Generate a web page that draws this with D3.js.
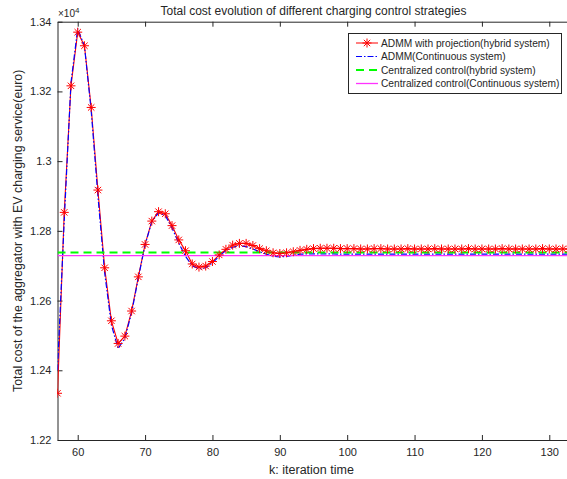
<!DOCTYPE html>
<html><head><meta charset="utf-8">
<script src="https://cdn.jsdelivr.net/npm/d3@7"></script>
<style>body{margin:0;background:#fff}svg{display:block}text{font-family:"Liberation Sans",Arial,sans-serif;fill:#262626}</style>
</head><body><svg id="c" width="567" height="479"></svg>
<script>
const iterations = [57,58,59,60,61,62,63,64,65,66,67,68,69,70,71,72,73,74,75,76,77,78,79,80,81,82,83,84,85,86,87,88,89,90,91,92,93,94,95,96,97,98,99,100,101,102,103,104,105,106,107,108,109,110,111,112,113,114,115,116,117,118,119,120,121,122,123,124,125,126,127,128,129,130,131,132,133];
const admmHybrid = [1.2334,1.2853,1.3216,1.3370,1.3331,1.3154,1.2917,1.2694,1.2542,1.2477,1.2498,1.2570,1.2668,1.2761,1.2828,1.2855,1.2849,1.2815,1.2774,1.2743,1.2705,1.2696,1.2699,1.2712,1.2731,1.2747,1.2759,1.2764,1.2764,1.2758,1.2749,1.2743,1.2737,1.2735,1.2737,1.2740,1.2744,1.2747,1.2749,1.2750,1.2750,1.2750,1.2749,1.2749,1.2749,1.2748,1.2748,1.2749,1.2749,1.2748,1.2748,1.2748,1.2749,1.2748,1.2748,1.2748,1.2749,1.2748,1.2748,1.2748,1.2748,1.2749,1.2748,1.2748,1.2748,1.2748,1.2749,1.2748,1.2748,1.2748,1.2748,1.2748,1.2749,1.2748,1.2748,1.2748,1.2748];
const admmContinuous = [1.2400,1.2830,1.3225,1.3380,1.3330,1.3145,1.2900,1.2680,1.2530,1.2462,1.2492,1.2565,1.2665,1.2760,1.2826,1.2852,1.2844,1.2808,1.2765,1.2727,1.2700,1.2691,1.2694,1.2708,1.2727,1.2744,1.2753,1.2757,1.2755,1.2748,1.2740,1.2733,1.2727,1.2725,1.2727,1.2730,1.2733,1.2734,1.2734,1.2734,1.2734,1.2734,1.2733,1.2733,1.2733,1.2733,1.2733,1.2733,1.2733,1.2733,1.2733,1.2733,1.2733,1.2733,1.2733,1.2733,1.2733,1.2733,1.2733,1.2733,1.2733,1.2733,1.2733,1.2733,1.2733,1.2733,1.2733,1.2733,1.2733,1.2733,1.2733,1.2733,1.2733,1.2733,1.2733,1.2733,1.2733];
const centralizedHybrid = 1.2738;
const centralizedContinuous = 1.2733;
const xTicks = [60,70,80,90,100,110,120,130];
const yTicks = [1.22,1.24,1.26,1.28,1.30,1.32,1.34];
const yTickLabels = ["1.22","1.24","1.26","1.28","1.3","1.32","1.34"];
const seriesNames = ["ADMM with projection(hybrid system)","ADMM(Continuous system)","Centralized control(hybrid system)","Centralized control(Continuous system)"];

const svg = d3.select("#c");
const L=57.5, R=569.5, T=21.7, B=440;
const x = d3.scaleLinear().domain([57,133]).range([L,R]);
const y = d3.scaleLinear().domain([1.22,1.34]).range([B,T]);
const axisColor="#262626";

svg.append("defs").append("clipPath").attr("id","pc").append("rect")
  .attr("x",L).attr("y",T-6).attr("width",R-L).attr("height",B-T+12);

// axes
const xa = svg.append("g").attr("transform",`translate(0,${B})`)
  .call(d3.axisBottom(x).tickValues(xTicks).tickSize(-5).tickPadding(8).tickSizeOuter(0).tickFormat(d3.format("d")));
const xt = svg.append("g").attr("transform",`translate(0,${T})`)
  .call(d3.axisTop(x).tickValues(xTicks).tickSize(-5).tickSizeOuter(0).tickFormat(""));
const ya = svg.append("g").attr("transform",`translate(${L},0)`)
  .call(d3.axisLeft(y).tickValues(yTicks).tickSize(-5).tickPadding(6).tickSizeOuter(0).tickFormat((d,i)=>yTickLabels[i]));
[xa,xt,ya].forEach(g=>{
  g.selectAll("path").attr("stroke",axisColor);
  g.selectAll("line").attr("stroke",axisColor);
  g.selectAll("text").attr("fill",axisColor).style("font-size","11px").style("font-family",'"Liberation Sans",Arial,sans-serif');
});

// exponent label
const ex = svg.append("text").attr("x",58).attr("y",17).style("font-size","10px");
ex.append("tspan").text("×10");
ex.append("tspan").attr("dy",-4).style("font-size","8px").text("4");

// title and labels
svg.append("text").attr("x",(L+R)/2).attr("y",15).attr("text-anchor","middle").style("font-size","12px")
  .text("Total cost evolution of different charging control strategies");
svg.append("text").attr("x",(L+R)/2-2).attr("y",474).attr("text-anchor","middle").style("font-size","12.5px")
  .text("k: iteration time");
svg.append("text").attr("transform",`translate(22,${(T+B)/2}) rotate(-90)`).attr("text-anchor","middle").style("font-size","12.4px")
  .text("Total cost of the aggregator with EV charging service(euro)");

const plot = svg.append("g").attr("clip-path","url(#pc)");
const line = d3.line().x((d,i)=>x(iterations[i])).y(d=>y(d));

// red line
plot.append("path").datum(admmHybrid).attr("d",line).attr("fill","none").attr("stroke","#ff0000").attr("stroke-width",1.1);
// blue dash-dot
plot.append("path").datum(admmContinuous).attr("d",line).attr("fill","none").attr("stroke","#0000ff").attr("stroke-width",1.2).attr("stroke-dasharray","6,2,1.5,2");
// green dashed
plot.append("line").attr("x1",x(57)).attr("x2",x(133)).attr("y1",y(centralizedHybrid)).attr("y2",y(centralizedHybrid))
  .attr("stroke","#00ff00").attr("stroke-width",2).attr("stroke-dasharray","8,5");
// magenta
plot.append("line").attr("x1",x(57)).attr("x2",x(133)).attr("y1",y(centralizedContinuous)+1.5).attr("y2",y(centralizedContinuous)+1.5)
  .attr("stroke","#ff33ff").attr("stroke-width",1.3);

const star = "M-4.5,0H4.5M0,-4.5V4.5M-3.2,-3.2L3.2,3.2M-3.2,3.2L3.2,-3.2";
plot.selectAll(".mk").data(admmHybrid).enter().append("path")
  .attr("transform",(d,i)=>`translate(${x(iterations[i])},${y(d)})`).attr("d",star)
  .attr("fill","none").attr("stroke","#ff0000").attr("stroke-width",1);

// legend
const lg = svg.append("g");
lg.append("rect").attr("x",348.5).attr("y",33.5).attr("width",213).attr("height",60).attr("fill","#fff").attr("stroke",axisColor).attr("stroke-width",1);
const rows=[43,56.5,70,83.5];
const styles=[{c:"#ff0000",w:1,d:"none"},{c:"#0000ff",w:1.2,d:"6,2,1.5,2"},{c:"#00ff00",w:2,d:"8,5"},{c:"#ff33ff",w:1.3,d:"none"}];
seriesNames.forEach((n,i)=>{
  lg.append("line").attr("x1",356).attr("x2",378).attr("y1",rows[i]).attr("y2",rows[i])
    .style("stroke",styles[i].c).style("stroke-width",styles[i].w).style("stroke-dasharray",styles[i].d);
  if(i===0) lg.append("path").attr("transform",`translate(367,${rows[i]})`).attr("d",star).attr("fill","none").attr("stroke","#ff0000");
  lg.append("text").attr("x",381).attr("y",rows[i]+3.5).style("font-size","10.2px").text(n);
});
</script></body></html>
